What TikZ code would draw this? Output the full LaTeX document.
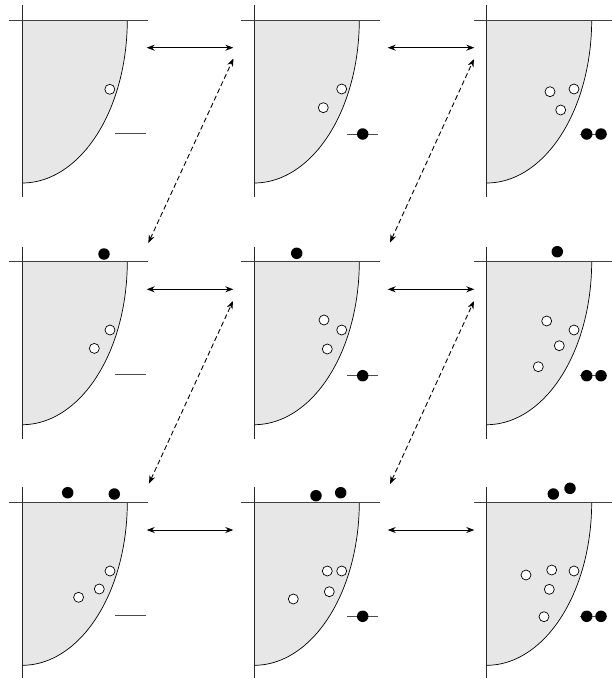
\documentclass[tikz,border=0pt]{standalone}
\usetikzlibrary{arrows.meta}
\definecolor{wellgray}{RGB}{231,231,232}
\tikzset{
  x=1pt, y=-1pt,
  vaxis/.style={line width=0.8pt, black!85},
  haxis/.style={line width=0.8pt, black!75},
  wall/.style={line width=0.7pt, black},
  level/.style={line width=0.8pt, black!70},
  hole/.style={circle, draw=black, fill=white, line width=0.7pt, minimum size=10pt, inner sep=0pt},
  elec/.style={circle, fill=black, minimum size=11.5pt, inner sep=0pt},
  harrow/.style={{Stealth[length=8pt,width=6pt]}-{Stealth[length=8pt,width=6pt]}, line width=0.9pt},
  darrow/.style={harrow, dash pattern=on 5pt off 3pt},
}
\newcommand\wellpanel[3]{%
  \begin{scope}[shift={(#2,#3)}]
    \fill[wellgray] (0,0) -- plot[domain=0:90, samples=60] ({105*cos(\x)},{163*sin(\x)}) -- cycle;
    \draw[wall] plot[domain=0:90, samples=60] ({105*cos(\x)},{163*sin(\x)});
    \draw[vaxis] (0,-15) -- (0,177);
    \draw[haxis] (-13,0) -- (126,0);
    \coordinate (#1o) at (0,0);
  \end{scope}}
\newcommand\levelA[1]{\draw[level] ([shift={(93,113)}]#1o) -- ([shift={(124,113)}]#1o);}
\newcommand\levelB[1]{\draw[level] ([shift={(93,114)}]#1o) -- ([shift={(123.4,114)}]#1o);
  \node[elec] (#1e1) at ([shift={(108.4,114)}]#1o) {};}
\newcommand\levelC[1]{\draw[level] ([shift={(93,114)}]#1o) -- ([shift={(120,114)}]#1o);
  \node[elec] (#1e1) at ([shift={(100,114)}]#1o) {};
  \node[elec] (#1e2) at ([shift={(114.3,114)}]#1o) {};}
\newcommand\hl[4]{\node[hole] (#1#2) at ([shift={(#3,#4)}]#1o) {};}
\newcommand\el[4]{\node[elec] (#1#2) at ([shift={(#3,#4)}]#1o) {};}
\begin{document}
\begin{tikzpicture}
  \useasboundingbox (0,0) rectangle (612,678);
  % panels
  \wellpanel{p11}{22.3}{20}
  \wellpanel{p12}{254.3}{20}
  \wellpanel{p13}{486.7}{20}
  \wellpanel{p21}{22.3}{261.7}
  \wellpanel{p22}{254.3}{261.7}
  \wellpanel{p23}{486.7}{261.7}
  \wellpanel{p31}{22.3}{502.3}
  \wellpanel{p32}{254.3}{502.3}
  \wellpanel{p33}{486.7}{502.3}
  % levels
  \levelA{p11} \levelB{p12} \levelC{p13}
  \levelA{p21} \levelB{p22} \levelC{p23}
  \levelA{p31} \levelB{p32} \levelC{p33}
  % row 1
  \hl{p11}{h1}{87.5}{69.3}
  \hl{p12}{h1}{87.4}{69}
  \hl{p12}{h2}{69}{87.7}
  \hl{p13}{h1}{63.3}{71.7}
  \hl{p13}{h2}{87.3}{69}
  \hl{p13}{h3}{74}{90}
  % row 2
  \hl{p21}{h1}{87.7}{68.3}
  \hl{p21}{h2}{72}{86.7}
  \el{p21}{s1}{81.7}{-7.7}
  \hl{p22}{h1}{69.7}{58.3}
  \hl{p22}{h2}{87.4}{68.3}
  \hl{p22}{h3}{73}{87.3}
  \el{p22}{s1}{42.4}{-8.4}
  \hl{p23}{h1}{60}{59.3}
  \hl{p23}{h2}{87.3}{68.3}
  \hl{p23}{h3}{72.6}{84}
  \hl{p23}{h4}{51.6}{105}
  \el{p23}{s1}{70.6}{-10}
  % row 3
  \hl{p31}{h1}{87.7}{68.7}
  \hl{p31}{h2}{77}{86.7}
  \hl{p31}{h3}{56.3}{95}
  \el{p31}{s1}{45.4}{-9.6}
  \el{p31}{s2}{92}{-8.3}
  \hl{p32}{h1}{73}{68.7}
  \hl{p32}{h2}{87.4}{68.7}
  \hl{p32}{h3}{75}{89.4}
  \hl{p32}{h4}{39}{96.7}
  \el{p32}{s1}{61.7}{-6.6}
  \el{p32}{s2}{86.4}{-9.6}
  \hl{p33}{h1}{39.3}{72.7}
  \hl{p33}{h2}{65}{67.7}
  \hl{p33}{h3}{87.3}{68.7}
  \hl{p33}{h4}{62.6}{87}
  \hl{p33}{h5}{57.3}{114.4}
  \el{p33}{s1}{66.6}{-8.3}
  \el{p33}{s2}{83.3}{-14}
  % arrow end points
  \coordinate (a1l) at (146.7,47.7);  \coordinate (a1r) at (233.3,47.7);
  \coordinate (a2l) at (387.7,47.7);  \coordinate (a2r) at (474.3,47.7);
  \coordinate (a3l) at (146.7,289.3); \coordinate (a3r) at (233.3,289.3);
  \coordinate (a4l) at (387.7,289.3); \coordinate (a4r) at (474.3,289.3);
  \coordinate (a5l) at (146.7,530);   \coordinate (a5r) at (233.3,530);
  \coordinate (a6l) at (387.7,530);   \coordinate (a6r) at (474.3,530);
  \coordinate (dAlo) at (148.3,243); \coordinate (dAhi) at (233.5,58.5);
  \coordinate (dBlo) at (390,242.5); \coordinate (dBhi) at (474,59);
  \coordinate (dClo) at (149,483.5); \coordinate (dChi) at (233,301);
  \coordinate (dDlo) at (390,484);   \coordinate (dDhi) at (474,301);
  \draw[harrow] (a1l) -- (a1r);
  \draw[harrow] (a2l) -- (a2r);
  \draw[harrow] (a3l) -- (a3r);
  \draw[harrow] (a4l) -- (a4r);
  \draw[harrow] (a5l) -- (a5r);
  \draw[harrow] (a6l) -- (a6r);
  \draw[darrow] (dAlo) -- (dAhi);
  \draw[darrow] (dBlo) -- (dBhi);
  \draw[darrow] (dClo) -- (dChi);
  \draw[darrow] (dDlo) -- (dDhi);
\end{tikzpicture}
\end{document}
